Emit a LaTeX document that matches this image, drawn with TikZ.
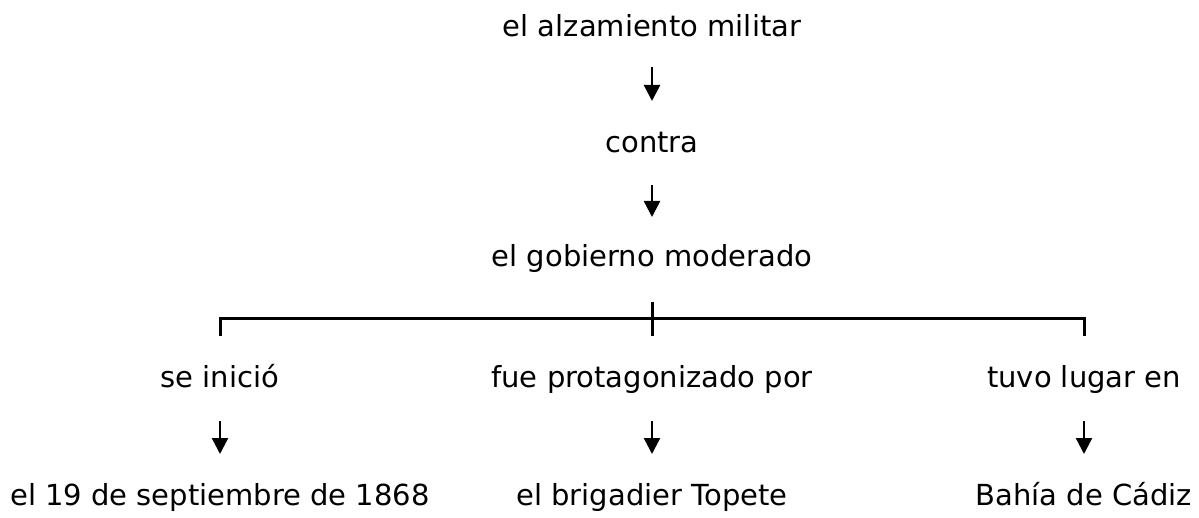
\documentclass[tikz,border=0pt]{standalone}
\usepackage{fontspec}
\setmainfont{DejaVu Sans}
\usetikzlibrary{arrows.meta}
\begin{document}
\begin{tikzpicture}[x=1pt,y=-1pt,
  lbl/.style={inner sep=0pt,anchor=base,font=\fontsize{29}{34}\selectfont},
  arr/.style={line width=2.5pt,-{Triangle[width=16pt,length=16pt]}},
  brk/.style={line width=3pt}]
\useasboundingbox (0,0) rectangle (1199,518);
\node[lbl] (a) at (652,37) {el alzamiento militar};
\node[lbl] (b) at (652,153) {contra};
\node[lbl] (g) at (652,267) {el gobierno moderado};
\node[lbl] (l) at (220,388) {se inició};
\node[lbl] (m) at (652,388) {fue protagonizado por};
\node[lbl] (r) at (1084,388) {tuvo lugar en};
\node[lbl] (l2) at (220,505) {el 19 de septiembre de 1868};
\node[lbl] (m2) at (652,505) {el brigadier Topete};
\node[lbl] (r2) at (1084,505) {Bahía de Cádiz};
\draw[arr] ([yshift=-30pt]a.base) -- ([yshift=52pt]b.base);
\draw[arr] ([yshift=-32pt]b.base) -- ([yshift=50pt]g.base);
\draw[arr] ([yshift=-33pt]l.base) -- ([yshift=51pt]l2.base);
\draw[arr] ([yshift=-33pt]m.base) -- ([yshift=51pt]m2.base);
\draw[arr] ([yshift=-33pt]r.base) -- ([yshift=51pt]r2.base);
\draw[brk] ([yshift=-35pt]g.base) -- ([yshift=-69pt]g.base);
\draw[brk] ([yshift=52pt]l.base) -- ([yshift=69pt]l.base) -- ([yshift=69pt]r.base) -- ([yshift=52pt]r.base);
\end{tikzpicture}
\end{document}
